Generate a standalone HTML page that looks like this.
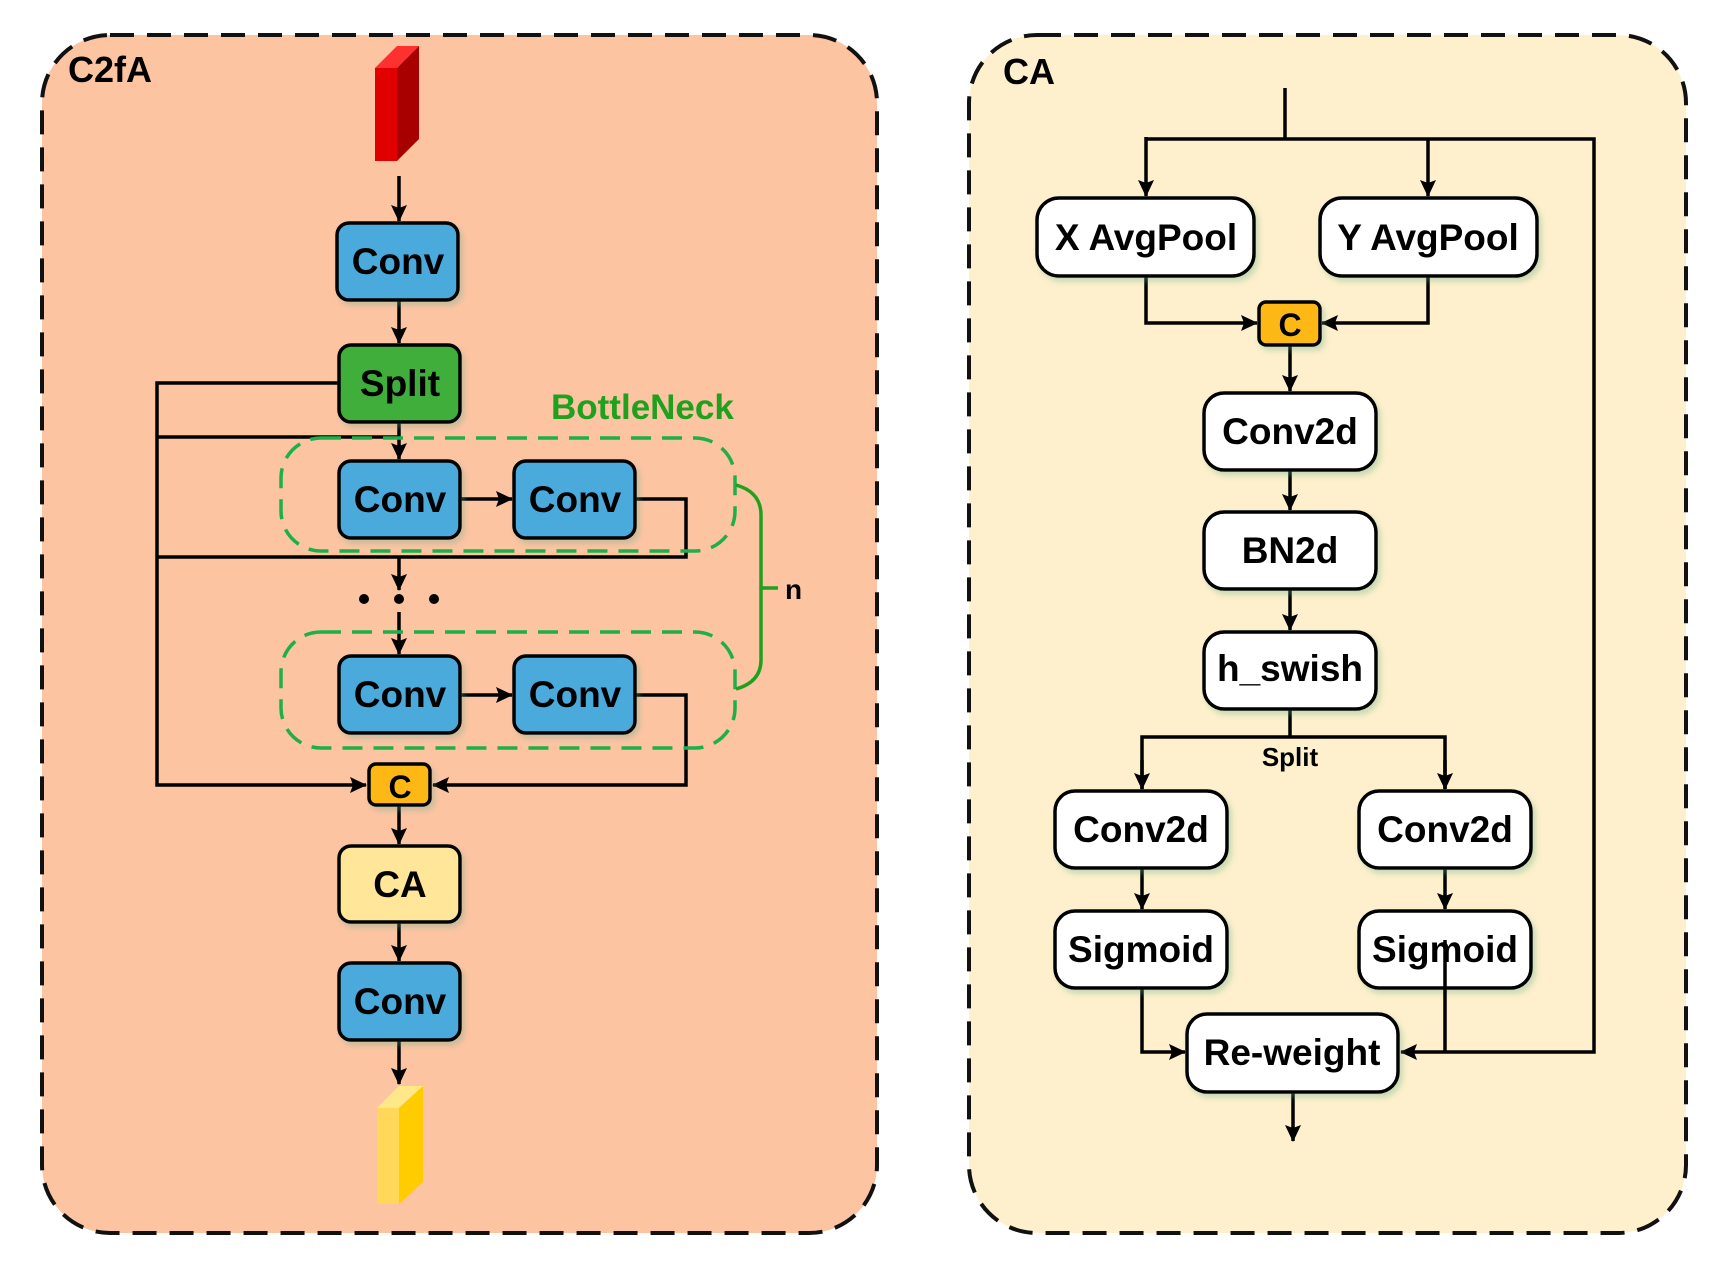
<!DOCTYPE html>
<html><head><meta charset="utf-8"><style>
html,body{margin:0;padding:0;background:#fff}
svg{display:block}
text{font-family:"Liberation Sans","DejaVu Sans",sans-serif;font-weight:bold}
</style></head><body>
<svg width="1720" height="1267" viewBox="0 0 1720 1267" xmlns="http://www.w3.org/2000/svg">
<defs>
<marker id="b" markerWidth="18" markerHeight="16" refX="16" refY="8" orient="auto" markerUnits="userSpaceOnUse"><path d="M0,0 L17,8 L0,16 L3,8 z" fill="#000"/></marker>
<filter id="sh" x="-20%" y="-20%" width="140%" height="150%"><feDropShadow dx="3" dy="4" stdDeviation="3" flood-color="#6a8" flood-opacity="0.35"/></filter>
</defs>
<!-- panels -->
<rect x="42" y="35" width="835" height="1198" rx="68" fill="#FDC4A2" stroke="#111" stroke-width="4" stroke-dasharray="24,13"/>
<rect x="969" y="35" width="717" height="1198" rx="68" fill="#FEF0CC" stroke="#111" stroke-width="4" stroke-dasharray="24,13"/>
<text x="68" y="82" font-size="36">C2fA</text>

<g stroke="#000" stroke-width="3.5" fill="none">
<line x1="399" y1="176" x2="399" y2="221" marker-end="url(#b)"/>
<line x1="399" y1="300" x2="399" y2="343" marker-end="url(#b)"/>
<polyline points="338,383 157,383 157,785 366,785" marker-end="url(#b)"/>
<line x1="157" y1="437" x2="399" y2="437"/>
<line x1="399" y1="422" x2="399" y2="459" marker-end="url(#b)"/>
<line x1="460" y1="499" x2="512" y2="499" marker-end="url(#b)"/>
<polyline points="635,499 686,499 686,557 157,557"/>
<line x1="399" y1="557" x2="399" y2="590" marker-end="url(#b)"/>
<line x1="399" y1="612" x2="399" y2="654" marker-end="url(#b)"/>
<line x1="460" y1="695" x2="512" y2="695" marker-end="url(#b)"/>
<polyline points="635,695 686,695 686,785 433,785" marker-end="url(#b)"/>
<line x1="399" y1="805" x2="399" y2="844" marker-end="url(#b)"/>
<line x1="399" y1="922" x2="399" y2="961" marker-end="url(#b)"/>
<line x1="399" y1="1040" x2="399" y2="1084" marker-end="url(#b)"/>
</g>

<g stroke="#1DB04A" stroke-width="3.5" fill="none" stroke-dasharray="20,11">
<rect x="281" y="438" width="454" height="113" rx="40"/>
<rect x="281" y="632" width="454" height="116" rx="40"/>
</g>
<path d="M736,485 Q761,492 761,515 L761,660 Q761,682 736,689 M761,588 L778,588" stroke="#1FA01F" stroke-width="3.5" fill="none"/>
<text x="785" y="599" font-size="28">n</text>
<text x="551" y="419" font-size="35" fill="#1FA01F">BottleNeck</text>
<g fill="#000"><circle cx="364" cy="599" r="5"/><circle cx="399" cy="599" r="5"/><circle cx="434" cy="599" r="5"/></g>

<polygon points="375,68 397,46 419,46 397,68" fill="#FF3030"/>
<rect x="375" y="68" width="22" height="93" fill="#E00000"/>
<polygon points="397,68 419,46 419,139 397,161" fill="#A80000"/>
<polygon points="377,1108 399,1086 423,1086 399,1108" fill="#FFE88A"/>
<rect x="377" y="1108" width="22" height="96" fill="#FFD85A"/>
<polygon points="399,1108 423,1086 423,1182 399,1204" fill="#FFCC00"/>

<g stroke="#000" stroke-width="3.5" filter="url(#sh)">
<rect x="337" y="223" width="121" height="77" rx="12" fill="#4BAADC"/>
<rect x="339" y="345" width="121" height="77" rx="12" fill="#3FAE3A"/>
<rect x="339" y="461" width="121" height="77" rx="12" fill="#4BAADC"/>
<rect x="514" y="461" width="121" height="77" rx="12" fill="#4BAADC"/>
<rect x="339" y="656" width="121" height="77" rx="12" fill="#4BAADC"/>
<rect x="514" y="656" width="121" height="77" rx="12" fill="#4BAADC"/>
<rect x="369" y="764" width="61" height="41" rx="7" fill="#FDB813"/>
<rect x="339" y="846" width="121" height="76" rx="12" fill="#FFE699"/>
<rect x="339" y="963" width="121" height="77" rx="12" fill="#4BAADC"/>
</g>
<g font-size="37" text-anchor="middle">
<text x="398" y="274">Conv</text>
<text x="400" y="396">Split</text>
<text x="400" y="512">Conv</text>
<text x="575" y="512">Conv</text>
<text x="400" y="707">Conv</text>
<text x="575" y="707">Conv</text>
<text x="400" y="798" font-size="32">C</text>
<text x="400" y="897">CA</text>
<text x="400" y="1014">Conv</text>
</g>

<g transform="translate(-6,0)">
<text x="1009" y="84" font-size="36">CA</text>
<g stroke="#000" stroke-width="3.5" fill="none">
<line x1="1291" y1="88" x2="1291" y2="139"/>
<polyline points="1152,139 1600,139 1600,1052 1407,1052" marker-end="url(#b)"/>
<line x1="1152" y1="137" x2="1152" y2="196" marker-end="url(#b)"/>
<line x1="1434" y1="139" x2="1434" y2="196" marker-end="url(#b)"/>
<polyline points="1152,276 1152,323 1263,323" marker-end="url(#b)"/>
<polyline points="1434,276 1434,323 1328,323" marker-end="url(#b)"/>
<line x1="1296" y1="345" x2="1296" y2="391" marker-end="url(#b)"/>
<line x1="1296" y1="470" x2="1296" y2="510" marker-end="url(#b)"/>
<line x1="1296" y1="589" x2="1296" y2="630" marker-end="url(#b)"/>
<line x1="1296" y1="709" x2="1296" y2="737"/>
<polyline points="1148,789 1148,737 1451,737 1451,789" />
<line x1="1148" y1="760" x2="1148" y2="789" marker-end="url(#b)"/>
<line x1="1451" y1="760" x2="1451" y2="789" marker-end="url(#b)"/>
<line x1="1148" y1="868" x2="1148" y2="909" marker-end="url(#b)"/>
<line x1="1451" y1="868" x2="1451" y2="909" marker-end="url(#b)"/>
<polyline points="1148,988 1148,1052 1191,1052" marker-end="url(#b)"/>
<line x1="1299" y1="1092" x2="1299" y2="1141" marker-end="url(#b)"/>
</g>
<g stroke="#000" stroke-width="3.5" filter="url(#sh)">
<rect x="1043" y="198" width="217" height="78" rx="22" fill="#fff"/>
<rect x="1326" y="198" width="217" height="78" rx="22" fill="#fff"/>
<rect x="1265" y="302" width="61" height="43" rx="7" fill="#FDB813"/>
<rect x="1210" y="393" width="172" height="77" rx="20" fill="#fff"/>
<rect x="1210" y="512" width="172" height="77" rx="20" fill="#fff"/>
<rect x="1210" y="632" width="172" height="77" rx="20" fill="#fff"/>
<rect x="1061" y="791" width="172" height="77" rx="20" fill="#fff"/>
<rect x="1365" y="791" width="172" height="77" rx="20" fill="#fff"/>
<rect x="1061" y="911" width="172" height="77" rx="20" fill="#fff"/>
<rect x="1365" y="911" width="172" height="77" rx="20" fill="#fff"/>
<rect x="1193" y="1014" width="211" height="78" rx="20" fill="#fff"/>
</g>
<line x1="1451" y1="940" x2="1451" y2="1052" stroke="#000" stroke-width="3.5"/>
<g font-size="37" text-anchor="middle">
<text x="1152" y="250">X AvgPool</text>
<text x="1434" y="250">Y AvgPool</text>
<text x="1296" y="336" font-size="32">C</text>
<text x="1296" y="444">Conv2d</text>
<text x="1296" y="563">BN2d</text>
<text x="1296" y="681">h_swish</text>
<text x="1296" y="766" font-size="26">Split</text>
<text x="1147" y="842">Conv2d</text>
<text x="1451" y="842">Conv2d</text>
<text x="1147" y="962">Sigmoid</text>
<text x="1451" y="962">Sigmoid</text>
<text x="1298" y="1065">Re-weight</text>
</g>
</g>
</svg>
</body></html>
